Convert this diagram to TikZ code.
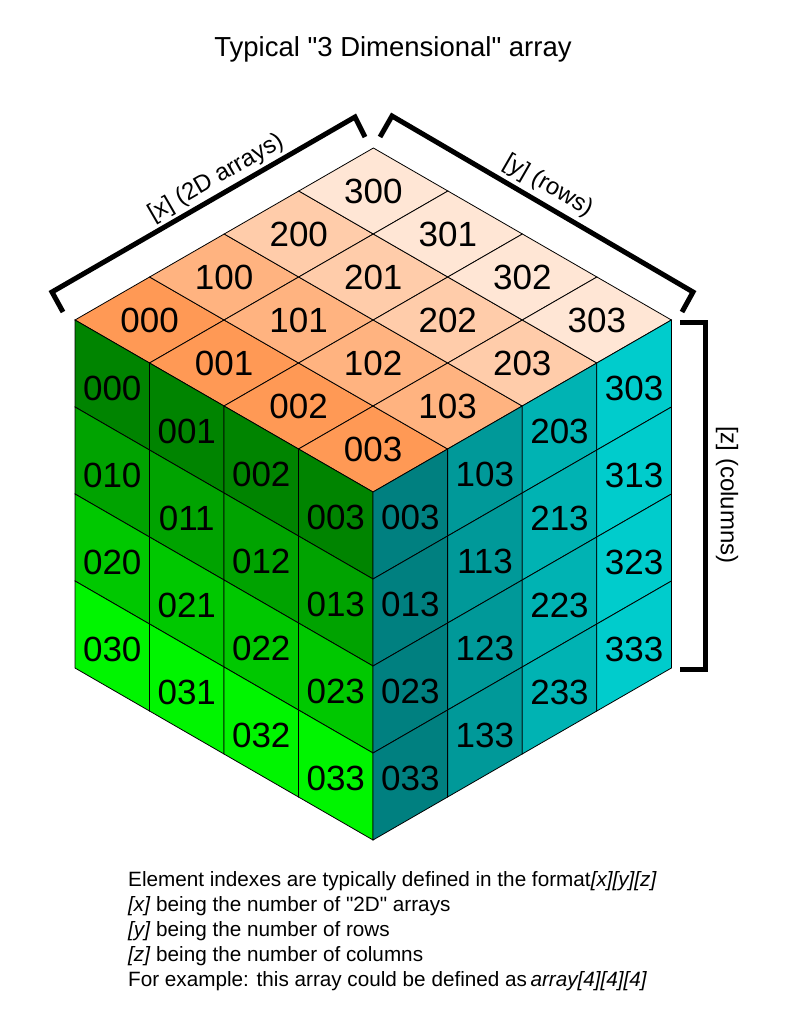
\documentclass[tikz,border=0pt]{standalone}
\usepackage{fontspec}
\setmainfont{Liberation Sans}[Ligatures=TeXOff]

\definecolor{xzero}{HTML}{FF9955}
\definecolor{xone}{HTML}{FFB380}
\definecolor{xtwo}{HTML}{FFCCAA}
\definecolor{xthree}{HTML}{FFE6D5}
\definecolor{yzero}{HTML}{008400}
\definecolor{yone}{HTML}{00A300}
\definecolor{ytwo}{HTML}{00C800}
\definecolor{ythree}{HTML}{00F500}
\definecolor{tealzero}{HTML}{008080}
\definecolor{tealone}{HTML}{009999}
\definecolor{tealtwo}{HTML}{00B3B3}
\definecolor{tealthree}{HTML}{00CCCC}

\tikzset{
    celllabel/.style={inner sep=0, font=\fontsize{35}{42}\selectfont},
    bracket/.style={line width=5},
    sidelabel/.style={inner sep=0, font=\fontsize{24}{29}\selectfont},
    note/.style={anchor=base west, inner sep=0, font=\fontsize{20.7}{25}\selectfont}
}

\newcommand{\cubecell}[4]{
            \draw[line width=0.8, fill=#4] (#1,#2) -- ++(1,0) -- ++(0,1) -- ++(-1,0) -- cycle;
            \node[celllabel] (c#3) at (#1+0.5,#2+0.5) {#3};
        }

\begin{document}
\begin{tikzpicture}[x=1pt, y=-1pt]
        \useasboundingbox (0,0) rectangle (789,1024);
        \node[font=\fontsize{27.5}{33}\selectfont, anchor=base] (title) at (393,57) {Typical "3 Dimensional" array};

        % top face: [x] towards the back, [z] towards the front
        \begin{scope}[shift={(75,320)}, x={(74.6pt,43pt)}, y={(74.5pt,-43pt)}, name prefix=top-]
        \cubecell{0}{0}{000}{xzero} \cubecell{0}{1}{001}{xzero} \cubecell{0}{2}{002}{xzero} \cubecell{0}{3}{003}{xzero}
        \cubecell{1}{0}{100}{xone} \cubecell{1}{1}{101}{xone} \cubecell{1}{2}{102}{xone} \cubecell{1}{3}{103}{xone}
        \cubecell{2}{0}{200}{xtwo} \cubecell{2}{1}{201}{xtwo} \cubecell{2}{2}{202}{xtwo} \cubecell{2}{3}{203}{xtwo}
        \cubecell{3}{0}{300}{xthree} \cubecell{3}{1}{301}{xthree} \cubecell{3}{2}{302}{xthree} \cubecell{3}{3}{303}{xthree}
        \end{scope}

        % left face: first 2D array
        \begin{scope}[shift={(75,320)}, x={(74.5pt,-43pt)}, y={(0pt,-87pt)}, name prefix=left-, celllabel/.append style={yshift=-3pt}]
        \cubecell{0}{0}{000}{yzero} \cubecell{1}{0}{001}{yzero} \cubecell{2}{0}{002}{yzero} \cubecell{3}{0}{003}{yzero}
        \cubecell{0}{1}{010}{yone} \cubecell{1}{1}{011}{yone} \cubecell{2}{1}{012}{yone} \cubecell{3}{1}{013}{yone}
        \cubecell{0}{2}{020}{ytwo} \cubecell{1}{2}{021}{ytwo} \cubecell{2}{2}{022}{ytwo} \cubecell{3}{2}{023}{ytwo}
        \cubecell{0}{3}{030}{ythree} \cubecell{1}{3}{031}{ythree} \cubecell{2}{3}{032}{ythree} \cubecell{3}{3}{033}{ythree}
        \end{scope}

        % right face: last column
        \begin{scope}[shift={(373,492)}, x={(74.6pt,43pt)}, y={(0pt,-87pt)}, name prefix=right-, celllabel/.append style={yshift=-3pt}]
        \cubecell{0}{0}{003}{tealzero} \cubecell{0}{1}{013}{tealzero} \cubecell{0}{2}{023}{tealzero} \cubecell{0}{3}{033}{tealzero}
        \cubecell{1}{0}{103}{tealone} \cubecell{1}{1}{113}{tealone} \cubecell{1}{2}{123}{tealone} \cubecell{1}{3}{133}{tealone}
        \cubecell{2}{0}{203}{tealtwo} \cubecell{2}{1}{213}{tealtwo} \cubecell{2}{2}{223}{tealtwo} \cubecell{2}{3}{233}{tealtwo}
        \cubecell{3}{0}{303}{tealthree} \cubecell{3}{1}{313}{tealthree} \cubecell{3}{2}{323}{tealthree} \cubecell{3}{3}{333}{tealthree}
        \end{scope}

        \draw[bracket] (63,312) -- (52,292) -- (355,117) -- (365,137);
        \draw[bracket] (380,137) -- (392,116) -- (693,292) -- (682,312);
        \draw[bracket] (680,322) -- (705,322) -- (705,669) -- (680,669);
        \node[sidelabel, rotate=30] (xlabel) at (216,178) {[x] (2D arrays)};
        \node[sidelabel, rotate=-30] (ylabel) at (548,186) {[y] (rows)};
        \node[sidelabel, rotate=-90] (zlabel) at (727,495) {[z] (columns)};

        \node[note] (note1) at (128,886) {Element indexes are typically defined in the format\textit{[x][y][z]}};
        \node[note] (note2) at (128,911) {\textit{[x]} being the number of "2D" arrays};
        \node[note] (note3) at (128,936) {\textit{[y]} being the number of rows};
        \node[note] (note4) at (128,961) {\textit{[z]} being the number of columns};
        \node[note] (note5) at (128,986) {For example: this array could be defined as\,\textit{array[4][4][4]}};
\end{tikzpicture}
\end{document}
